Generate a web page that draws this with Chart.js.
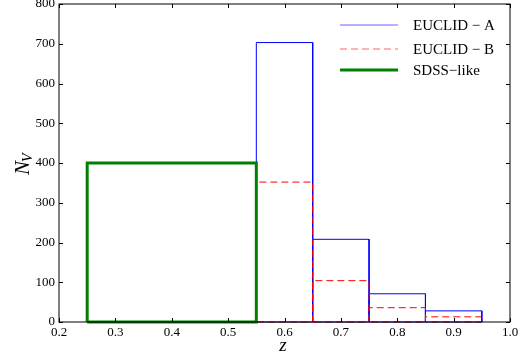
<!DOCTYPE html>
<html><head><meta charset="utf-8">
<script src="https://cdn.jsdelivr.net/npm/chart.js@4"></script>
<style>html,body{margin:0;padding:0;background:#fff}canvas{display:block}</style>
</head><body>
<canvas id="c" width="527" height="361"></canvas>
<script>
// Data
const seriesNames = ["EUCLID \u2212 A", "EUCLID \u2212 B", "SDSS\u2212like"];
const euclidEdges = [0.55, 0.65, 0.75, 0.85, 0.95];
const euclidA = [703, 208, 71, 28];
const euclidB = [352, 104, 36, 13];
const sdssEdges = [0.25, 0.55];
const sdss = [400];
const xTicks = [0.2, 0.3, 0.4, 0.5, 0.6, 0.7, 0.8, 0.9, 1.0];
const yTicks = [0, 100, 200, 300, 400, 500, 600, 700, 800];

function rects(edges, counts) {
  const pts = [];
  for (let i = 0; i < counts.length; i++) {
    const a = edges[i], b = edges[i + 1], c = counts[i];
    pts.push({x: a, y: 0}, {x: a, y: c}, {x: b, y: c}, {x: b, y: 0}, {x: a, y: 0}, {x: a, y: null});
  }
  return pts;
}

const SERIF = '"Liberation Serif", "DejaVu Serif", serif';

const framePlugin = {
  id: 'frame',
  afterDraw(chart) {
    const ctx = chart.ctx, ca = chart.chartArea;
    const xs = chart.scales.x, ys = chart.scales.y;
    ctx.save();
    ctx.strokeStyle = '#000';
    ctx.lineWidth = 1;
    ctx.strokeRect(ca.left, ca.top, ca.right - ca.left, ca.bottom - ca.top);
    const tl = 4;
    ctx.beginPath();
    xTicks.forEach(v => {
      const px = Math.round(xs.getPixelForValue(v)) + 0.5;
      ctx.moveTo(px, ca.bottom); ctx.lineTo(px, ca.bottom - tl);
      ctx.moveTo(px, ca.top); ctx.lineTo(px, ca.top + tl);
    });
    yTicks.forEach(v => {
      const py = Math.round(ys.getPixelForValue(v)) + 0.5;
      ctx.moveTo(ca.left, py); ctx.lineTo(ca.left + tl, py);
      ctx.moveTo(ca.right, py); ctx.lineTo(ca.right - tl, py);
    });
    ctx.stroke();

    // Legend
    const rows = [25, 49, 70];
    chart.data.datasets.forEach((ds, i) => {
      ctx.save();
      ctx.strokeStyle = ds.borderColor;
      ctx.lineWidth = ds.borderWidth;
      ctx.setLineDash(ds.borderDash || []);
      ctx.globalAlpha = i === 2 ? 1 : 0.6;
      ctx.beginPath();
      ctx.moveTo(340, rows[i]); ctx.lineTo(398, rows[i]);
      ctx.stroke();
      ctx.restore();
      ctx.fillStyle = '#000';
      ctx.font = '15px ' + SERIF;
      ctx.textBaseline = 'middle';
      ctx.textAlign = 'left';
      ctx.fillText(ds.label, 413, rows[i] + 1);
    });

    // Axis titles
    ctx.fillStyle = '#000';
    ctx.textAlign = 'center';
    ctx.textBaseline = 'middle';
    ctx.font = 'italic 19px ' + SERIF;
    ctx.fillText('z', 283, 346);

    ctx.translate(22, 165);
    ctx.rotate(-Math.PI / 2);
    ctx.textAlign = 'left';
    ctx.textBaseline = 'alphabetic';
    ctx.font = 'italic 21px ' + SERIF;
    const nW = ctx.measureText('N').width;
    ctx.fillText('N', -10, 7);
    ctx.font = 'italic 14px ' + SERIF;
    ctx.fillText('V', -10 + nW - 1, 10);
    ctx.restore();
  }
};

new Chart(document.getElementById('c'), {
  type: 'scatter',
  data: {
    datasets: [
      {label: seriesNames[0], data: rects(euclidEdges, euclidA), borderColor: '#0000ff', borderWidth: 1, showLine: true, pointRadius: 0, order: 3, clip: false, spanGaps: false},
      {label: seriesNames[1], data: rects(euclidEdges, euclidB), borderColor: '#ff0000', borderWidth: 1, borderDash: [7, 4], showLine: true, pointRadius: 0, order: 2, clip: false, spanGaps: false},
      {label: seriesNames[2], data: rects(sdssEdges, sdss), borderColor: '#008000', borderWidth: 3, showLine: true, pointRadius: 0, order: 1, clip: false, spanGaps: false}
    ]
  },
  options: {
    responsive: false,
    animation: false,
    devicePixelRatio: 1,
    layout: {padding: {top: 4, right: 17, bottom: 0, left: 0}},
    plugins: {legend: {display: false}, tooltip: {enabled: false}},
    elements: {line: {tension: 0}},
    scales: {
      x: {
        type: 'linear', min: 0.2, max: 1.0,
        grid: {display: false, drawTicks: false},
        border: {display: false},
        ticks: {
          stepSize: 0.1, padding: 3, color: '#000', maxRotation: 0, autoSkip: false,
          font: {family: SERIF, size: 13},
          callback: v => v.toFixed(1)
        },
        afterBuildTicks: s => { s.ticks = xTicks.map(v => ({value: v})); },
        afterFit: s => { s.height = 39; s.paddingLeft = 0; s.paddingRight = 0; s.paddingTop = 0; s.paddingBottom = 0; }
      },
      y: {
        type: 'linear', min: 0, max: 800,
        grid: {display: false, drawTicks: false},
        border: {display: false},
        ticks: {
          stepSize: 100, padding: 4, color: '#000', autoSkip: false,
          font: {family: SERIF, size: 13}
        },
        afterBuildTicks: s => { s.ticks = yTicks.map(v => ({value: v})); },
        afterFit: s => { s.width = 59; s.paddingLeft = 0; s.paddingRight = 0; s.paddingTop = 0; s.paddingBottom = 0; }
      }
    }
  },
  plugins: [framePlugin]
});
</script>
</body></html>
